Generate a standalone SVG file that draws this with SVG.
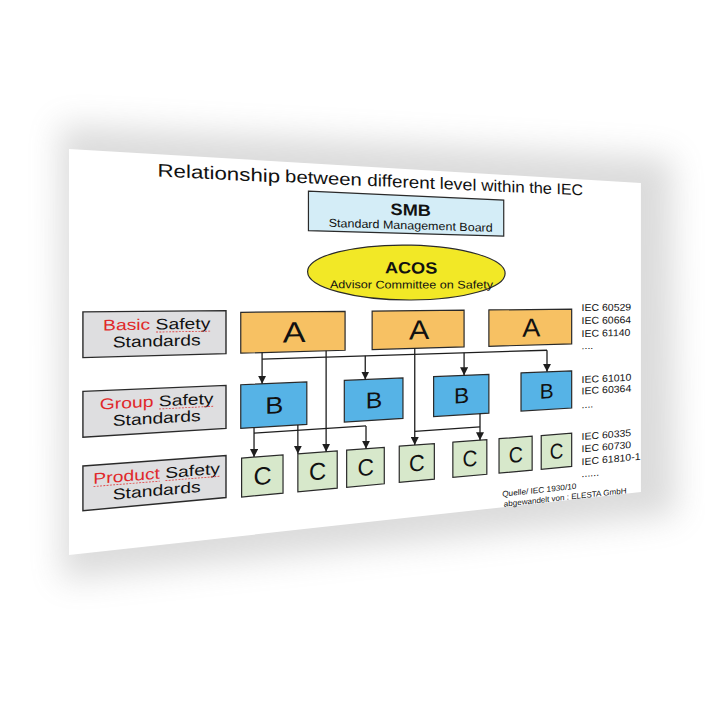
<svg xmlns="http://www.w3.org/2000/svg" width="705" height="705" viewBox="0 0 705 705">
<defs>
<style>
text{font-family:"Liberation Sans",Arial,sans-serif;fill:#111;}
.m{text-anchor:middle;}
.s{text-anchor:start;}
.bx{stroke:#2a2a2a;stroke-width:1.2;}
.lbl{fill:#dedee0;stroke:#2a2a2a;stroke-width:1.4;}
.a{fill:#f7c163;}
.b{fill:#56b3e6;}
.c{fill:#d7e8cb;}
.smb{fill:#d4edf7;}
.acos{fill:#f2e826;}
.ln{fill:none;stroke:#1e1e1e;stroke-width:1.3;}
.ar{marker-end:url(#arr);}
.sq{fill:none;stroke:#e04848;stroke-width:0.9;stroke-dasharray:1.6 1.1;}
.red{fill:#e0282a;}
</style>
<marker id="arr" viewBox="0 0 10 10" refX="10" refY="5" markerWidth="8" markerHeight="8" markerUnits="userSpaceOnUse" orient="auto" preserveAspectRatio="none">
<path d="M0,0 L10,5 L0,10 z" fill="#1e1e1e"/>
</marker>
<filter id="blur" x="-30%" y="-30%" width="160%" height="160%"><feGaussianBlur stdDeviation="16"/></filter>
</defs>
<rect x="0" y="0" width="705" height="705" fill="#ffffff"/>
<g id="slide">
<polygon points="60,125 672,158 676,515 62,580" fill="#808080" opacity="0.28" filter="url(#blur)"/>
<polygon points="69,149 640.9,182.9 640.9,492 69,555" fill="#ffffff"/>
</g>
<g id="title" font-size="19.5">
<text class="m" transform="matrix(1.14353,0.05671,0,0.93753,218.82,179.50)">Relationship</text>
<text class="m" transform="matrix(1.03960,0.05190,0,0.89391,323.41,183.99)">between</text>
<text class="m" transform="matrix(0.96567,0.04845,0,0.86154,401.04,187.33)">different</text>
<text class="m" transform="matrix(0.91312,0.04601,0,0.83777,458.06,189.78)">level</text>
<text class="m" transform="matrix(0.87272,0.04412,0,0.81903,503.00,191.71)">within</text>
<text class="m" transform="matrix(0.83965,0.04257,0,0.80336,540.57,193.33)">the</text>
<text class="m" transform="matrix(0.81440,0.04139,0,0.79119,569.74,194.58)">IEC</text>
</g>
<g id="node-smb">
<polygon class="bx smb" points="308.44,191.08 503.73,200.12 503.73,236.15 308.44,230.69"/>
<text class="m" font-weight="bold" font-size="19" transform="matrix(0.95592,0.03508,0,0.85751,410.72,215.54)">SMB</text>
<text class="m" font-size="13.5" transform="matrix(0.92650,0.02782,0,0.85751,410.72,229.26)">Standard Management Board</text>
</g>
<g id="node-acos">
<path class="bx acos" d="M307.6,271.64 C307.6,255.73 355.2,243.89 411.1,245.13 C464.08,246.31 505.1,258.95 505.1,273.41 C505.1,287.87 464.08,299.77 411.1,300.0 C355.2,300.25 307.6,287.55 307.6,271.64 Z"/>
<text class="m" font-weight="bold" font-size="19" transform="matrix(0.95559,0.00817,0,0.85736,411.09,273.42)">ACOS</text>
<text class="m" font-size="13" transform="matrix(0.97029,0.00121,0,0.85736,411.5,288.43)">Advisor Committee on Safety</text>
</g>
<g id="label-basic">
<polygon class="lbl" points="82.92,311.88 226.0,310.63 226.0,353.61 82.92,357.61"/>
<g transform="matrix(1.20669,-0.02013,0,0.96344,156.67,329.54)">
<text class="m" font-size="16"><tspan class="red">Basic</tspan> Safety</text>
<path class="sq" d="M-0.5,2.6 H44.4"/>
</g>
<text class="m" font-size="16" transform="matrix(1.20669,-0.02893,0,0.96344,156.67,346.40)">Standards</text>
</g>
<g id="label-group">
<polygon class="lbl" points="82.92,391.41 226.0,385.39 226.0,428.38 82.92,437.15"/>
<g transform="matrix(1.20669,-0.06038,0,0.96344,156.67,406.61)">
<text class="m" font-size="16"><tspan class="red">Group</tspan> Safety</text>
<path class="sq" d="M2,2.6 H47"/>
</g>
<text class="m" font-size="16" transform="matrix(1.20669,-0.06919,0,0.96344,156.67,423.47)">Standards</text>
</g>
<g id="label-product">
<polygon class="lbl" points="82.92,465.98 226.0,455.48 226.0,497.53 82.92,510.72"/>
<g transform="matrix(1.20669,-0.09812,0,0.96344,156.67,478.87)">
<text class="m" font-size="16"><tspan class="red">Product</tspan> Safety</text>
<path class="sq" d="M-52.3,2.6 H2.6 M7.2,2.6 H52.3"/>
</g>
<text class="m" font-size="16" transform="matrix(1.20669,-0.10693,0,0.96344,156.67,495.73)">Standards</text>
</g>
<g id="node-a1"><polygon class="bx a" points="240.75,312.35 345.08,311.35 345.08,350.29 240.75,353.20"/>
<text class="m" font-size="32" transform="matrix(1.06733,-0.02515,0,0.90610,294.17,342.19)">A</text></g>
<g id="node-a2"><polygon class="bx a" points="372.14,311.09 464.08,310.21 464.08,346.96 372.14,349.53"/>
<text class="m" font-size="32" transform="matrix(0.94809,-0.02234,0,0.85399,419.14,339.25)">A</text></g>
<g id="node-a3"><polygon class="bx a" points="488.88,309.97 571.68,309.18 571.68,343.96 488.88,346.27"/>
<text class="m" font-size="32" transform="matrix(0.84721,-0.01996,0,0.80728,531.17,336.61)">A</text></g>
<g id="node-b1"><polygon class="bx b" points="240.75,384.77 306.82,381.98 306.82,424.32 240.75,428.40"/>
<text class="m" font-size="26" transform="matrix(1.04516,-0.05840,0,0.91440,274.28,413.53)">B</text></g>
<g id="node-b2"><polygon class="bx b" points="344.30,380.41 402.97,377.93 402.97,418.39 344.30,422.01"/>
<text class="m" font-size="26" transform="matrix(0.95223,-0.05321,0,0.87280,374.04,407.96)">B</text></g>
<g id="node-b3"><polygon class="bx b" points="433.62,376.64 488.88,374.32 488.88,413.09 433.62,416.50"/>
<text class="m" font-size="26" transform="matrix(0.87419,-0.04885,0,0.83627,461.63,403.06)">B</text></g>
<g id="node-b4"><polygon class="bx b" points="521.01,372.96 571.68,370.83 571.68,407.98 521.01,411.10"/>
<text class="m" font-size="26" transform="matrix(0.80163,-0.04479,0,0.80081,546.68,398.31)">B</text></g>
<g id="node-c1"><polygon class="bx c" points="241.61,458.04 283.03,454.94 283.03,493.19 241.61,497.02"/>
<text class="m" font-size="27" transform="matrix(0.92962,-0.08160,0,0.91930,262.51,484.51)">C</text></g>
<g id="node-c2"><polygon class="bx c" points="297.86,453.82 337.22,450.87 337.22,488.17 297.86,491.81"/>
<text class="m" font-size="27" transform="matrix(0.88365,-0.07757,0,0.89628,317.72,479.67)">C</text></g>
<g id="node-c3"><polygon class="bx c" points="346.65,450.16 384.28,447.34 384.28,483.81 346.65,487.30"/>
<text class="m" font-size="27" transform="matrix(0.84471,-0.07415,0,0.87631,365.63,475.46)">C</text></g>
<g id="node-c4"><polygon class="bx c" points="399.25,446.21 434.34,443.58 434.34,479.18 399.25,482.43"/>
<text class="m" font-size="27" transform="matrix(0.80394,-0.07057,0,0.85490,416.94,470.96)">C</text></g>
<g id="node-c5"><polygon class="bx c" points="452.85,442.19 486.83,439.64 486.83,474.32 452.85,477.46"/>
<text class="m" font-size="27" transform="matrix(0.76289,-0.06697,0,0.83279,469.99,466.30)">C</text></g>
<g id="node-c6"><polygon class="bx c" points="499.03,438.72 532.14,436.24 532.14,470.13 499.03,473.19"/>
<text class="m" font-size="27" transform="matrix(0.72835,-0.06393,0,0.81372,515.73,462.29)">C</text></g>
<g id="node-c7"><polygon class="bx c" points="541.22,435.56 571.68,433.27 571.68,466.46 541.22,469.29"/>
<text class="m" font-size="27" transform="matrix(0.69817,-0.06129,0,0.79668,556.57,458.70)">C</text></g>
<g id="connectors">
<path class="ln ar" d="M262.09,352.6 V383.87"/>
<path class="ln" d="M262.09,359.04 L547.0,350.25"/>
<path class="ln ar" d="M365.25,355.86 V379.52"/>
<path class="ln ar" d="M464.08,352.81 V375.36"/>
<path class="ln ar" d="M547.0,350.25 V371.87"/>
<path class="ln ar" d="M326.12,350.82 V451.70"/>
<path class="ln ar" d="M414.75,348.34 V445.05"/>
<path class="ln ar" d="M480.0,413.64 V440.15"/>
<path class="ln" d="M414.75,431.35 L480.0,426.89"/>
<path class="ln ar" d="M254.03,427.58 V457.11"/>
<path class="ln ar" d="M297.86,424.88 V453.82"/>
<path class="ln" d="M254.03,433.12 L366.01,425.93"/>
<path class="ln ar" d="M366.01,425.93 V448.71"/>
</g>
<g id="iec-refs" font-size="12.5">
<text class="s" transform="matrix(0.84070,-0.00894,0,0.78623,581.62,311.05)">IEC 60529</text>
<text class="s" transform="matrix(0.84070,-0.01472,0,0.78623,581.62,324.02)">IEC 60664</text>
<text class="s" transform="matrix(0.84070,-0.02051,0,0.78623,581.62,336.99)">IEC 61140</text>
<text class="s" transform="matrix(0.84070,-0.02594,0,0.78623,581.62,349.18)">....</text>
<text class="s" transform="matrix(0.84070,-0.04102,0,0.78623,581.62,382.99)">IEC 61010</text>
<text class="s" transform="matrix(0.84070,-0.04610,0,0.78623,581.62,394.39)">IEC 60364</text>
<text class="s" transform="matrix(0.84070,-0.05224,0,0.78623,581.62,408.15)">....</text>
<text class="s" transform="matrix(0.84070,-0.06643,0,0.78623,581.62,439.99)">IEC 60335</text>
<text class="s" transform="matrix(0.84070,-0.07187,0,0.78623,581.62,452.18)">IEC 60730</text>
<text class="s" transform="matrix(0.84070,-0.07765,0,0.78623,581.62,465.15)">IEC 61810-1</text>
<text class="s" transform="matrix(0.84070,-0.08309,0,0.78623,581.62,477.34)">......</text>
</g>
<g id="source" font-size="10">
<text class="m" transform="matrix(0.82719,-0.08658,0,0.80389,539.28,492.78)">Quelle/ IEC 1930/10</text>
<text class="m" transform="matrix(0.80517,-0.08847,0,0.79312,565.10,499.99)">abgewandelt von : ELESTA GmbH</text>
</g>
</svg>
